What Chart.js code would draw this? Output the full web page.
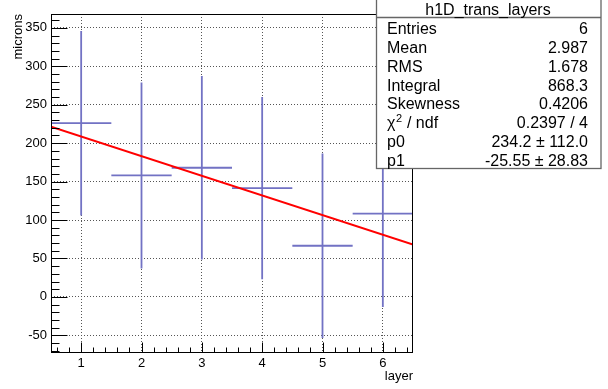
<!DOCTYPE html>
<html>
<head>
<meta charset="utf-8">
<script src="https://cdn.jsdelivr.net/npm/chart.js@4.4.1/dist/chart.umd.min.js"></script>
<style>
  html, body { margin: 0; padding: 0; background: #fff; }
</style>
</head>
<body>
<canvas id="chart" width="608" height="389"></canvas>
<script>
// histogram h1D_trans_layers, one bin per layer
const layers = [1, 2, 3, 4, 5, 6];
const microns = [226, 158, 168, 141.5, 66.5, 108.3];
const errors = [120, 121, 119.5, 118.5, 120, 121.5];
const binWidth = 1;

// pol1 fit, end points
const fitX = [0.5, 6.5];
const fitY = [221.4, 68.1];

const xTicks = [1, 2, 3, 4, 5, 6];
const yTicks = [-50, 0, 50, 100, 150, 200, 250, 300, 350];

const statsTitle = 'h1D_trans_layers';
const statsNames = ['Entries', 'Mean', 'RMS', 'Integral', 'Skewness', 'chi2', 'p0', 'p1'];
const statsValues = ['6', '2.987', '1.678', '868.3', '0.4206', '0.2397 / 4', '234.2 \u00b1 112.0', '-25.55 \u00b1 28.83'];

const FONT = '"Liberation Sans", Arial, sans-serif';

// error bars drawn like ROOT's "E" option
const errorBars = {
  id: 'errorBars',
  beforeDatasetsDraw(chart) {
    const {ctx, scales: {x, y}, chartArea} = chart;
    ctx.save();
    ctx.beginPath();
    ctx.rect(chartArea.left, chartArea.top, chartArea.width, chartArea.height);
    ctx.clip();
    ctx.strokeStyle = '#7272c4';
    ctx.lineWidth = 1.8;
    layers.forEach((l, i) => {
      const px = x.getPixelForValue(l);
      const py = y.getPixelForValue(microns[i]);
      ctx.beginPath();
      ctx.moveTo(x.getPixelForValue(l - binWidth / 2), py);
      ctx.lineTo(x.getPixelForValue(l + binWidth / 2), py);
      ctx.moveTo(px, y.getPixelForValue(microns[i] + errors[i]));
      ctx.lineTo(px, y.getPixelForValue(microns[i] - errors[i]));
      ctx.stroke();
    });
    ctx.restore();
  }
};

// frame, inward ticks and the stats box
const rootFrame = {
  id: 'rootFrame',
  afterDraw(chart) {
    const {ctx, scales: {x, y}, chartArea: a} = chart;
    const L = Math.round(a.left) + 0.5, R = Math.round(a.right) - 0.5;
    const T = Math.round(a.top) + 0.5, B = Math.round(a.bottom) - 0.5;
    ctx.save();
    ctx.strokeStyle = '#000';
    ctx.lineWidth = 1;
    ctx.beginPath();
    // y ticks
    for (let v = -70; v <= 360; v += 10) {
      const py = Math.round(y.getPixelForValue(v)) + 0.5;
      const len = yTicks.includes(v) ? 16 : 8;
      ctx.moveTo(L, py);
      ctx.lineTo(L + len, py);
    }
    // x ticks
    for (let k = 6; k <= 64; k += 2) {
      const v = k / 10;
      const px = Math.round(x.getPixelForValue(v)) + 0.5;
      const len = (k % 10 === 0) ? 10 : 5;
      ctx.moveTo(px, B);
      ctx.lineTo(px, B - len);
    }
    ctx.stroke();
    ctx.strokeRect(L, T, R - L, B - T);

    // stats box
    const bx = 376.5, by = -1, bw = 224.5, bh = 169.5;
    ctx.fillStyle = '#fff';
    ctx.fillRect(bx, by, bw, bh);
    ctx.strokeStyle = '#666';
    ctx.lineWidth = 1.3;
    ctx.strokeRect(bx, by, bw, bh);
    ctx.beginPath();
    ctx.moveTo(bx, 17.5);
    ctx.lineTo(bx + bw, 17.5);
    ctx.stroke();

    ctx.fillStyle = '#000';
    ctx.font = '16px ' + FONT;
    ctx.textBaseline = 'alphabetic';
    ctx.textAlign = 'center';
    ctx.fillText(statsTitle, 488, 14.5);
    const base0 = 34.3, step = 18.75;
    statsNames.forEach((name, i) => {
      const yy = base0 + i * step;
      ctx.textAlign = 'left';
      if (name === 'chi2') {
        ctx.font = '16px ' + FONT;
        ctx.fillText('\u03c7', 387, yy);
        const w = ctx.measureText('\u03c7').width;
        ctx.font = '11px ' + FONT;
        ctx.fillText('2', 387 + w + 0.5, yy - 6);
        const w2 = ctx.measureText('2').width;
        ctx.font = '16px ' + FONT;
        ctx.fillText(' / ndf', 387 + w + w2 + 1, yy);
      } else {
        ctx.font = '16px ' + FONT;
        ctx.fillText(name, 387, yy);
      }
      ctx.textAlign = 'right';
      ctx.font = '16px ' + FONT;
      ctx.fillText(statsValues[i], 588, yy);
    });
    ctx.restore();
  }
};

new Chart(document.getElementById('chart'), {
  type: 'scatter',
  data: {
    datasets: [
      {
        label: statsTitle,
        data: layers.map((l, i) => ({x: l, y: microns[i]})),
        pointRadius: 0,
        showLine: false
      },
      {
        label: 'fit',
        type: 'line',
        data: fitX.map((v, i) => ({x: v, y: fitY[i]})),
        borderColor: '#ff0000',
        borderWidth: 2.2,
        pointRadius: 0,
        fill: false
      }
    ]
  },
  options: {
    responsive: false,
    animation: false,
    devicePixelRatio: 1,
    layout: { padding: { left: 0, top: 14, right: 195, bottom: 0 } },
    plugins: { legend: { display: false }, tooltip: { enabled: false } },
    scales: {
      x: {
        type: 'linear',
        min: 0.5,
        max: 6.5,
        afterBuildTicks: s => { s.ticks = xTicks.map(v => ({value: v})); },
        afterFit: s => { s.height = 36; },
        ticks: { color: '#000', font: { family: FONT, size: 13 }, padding: 3 },
        grid: { color: '#555', drawTicks: false },
        border: { display: false, dash: [1, 2] },
        title: { display: true, text: 'layer', align: 'end', color: '#000',
                 font: { family: FONT, size: 13 }, padding: { top: 0, bottom: 5 } }
      },
      y: {
        min: -73,
        max: 368,
        afterBuildTicks: s => { s.ticks = yTicks.map(v => ({value: v})); },
        afterFit: s => { s.width = 51; },
        ticks: { color: '#000', font: { family: FONT, size: 13 }, padding: 4 },
        grid: { color: '#555', drawTicks: false },
        border: { display: false, dash: [1, 2] },
        title: { display: true, text: 'microns', align: 'end', color: '#000',
                 font: { family: FONT, size: 13 }, padding: { top: 10.5, bottom: 0 } }
      }
    }
  },
  plugins: [errorBars, rootFrame]
});
</script>
</body>
</html>
